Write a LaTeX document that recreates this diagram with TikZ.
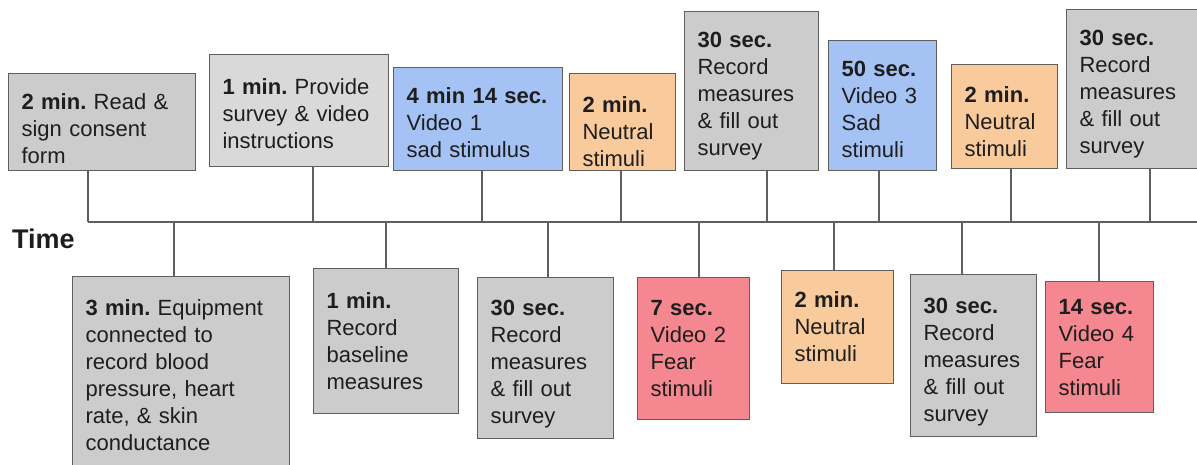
\documentclass[tikz,border=0pt]{standalone}
\usepackage{fontspec}
\setmainfont{Liberation Sans}
\frenchspacing
\definecolor{boxgray}{HTML}{CCCCCC}
\definecolor{boxlight}{HTML}{D9D9D9}
\definecolor{boxblue}{HTML}{A4C2F4}
\definecolor{boxorange}{HTML}{F9CB9C}
\definecolor{boxred}{HTML}{F4878F}
\definecolor{edgegray}{HTML}{5F5F5F}
\definecolor{textcol}{HTML}{1E1E1E}
\tikzset{
  stagebox/.style={draw=edgegray, line width=1.2pt, anchor=north west,
    inner xsep=13pt, inner ysep=0pt, align=left, text=textcol,
    font=\fontsize{22}{27}\selectfont\frenchspacing},
  tick/.style={draw=edgegray, line width=1.3pt},
  timelabel/.style={font=\fontsize{27}{30}\selectfont\bfseries, text=textcol, anchor=base west, inner sep=0pt}
}
% #1 name, #2 left, #3 top, #4 width, #5 height, #6 fill, #7 text, #8 first-line strut height
\newcommand{\stage}[8]{%
  \node[stagebox, fill=#6, minimum width=#4pt, minimum height=#5pt, text width=#4pt-26pt] (#1) at (#2,#3) {\rule{0pt}{#8pt}#7};}
\begin{document}
\begin{tikzpicture}[x=1pt,y=-1pt]
\useasboundingbox (0,0) rectangle (1197,464);
\clip (0,0) rectangle (1197,464);
% timeline
\coordinate (ts) at (88,222);
\coordinate (te) at (1197,222);
\node[timelabel] (time) at (12,248) {Time};
% top boxes
\stage{a}{8}{73}{187}{97}{boxgray}{\textbf{2 min.} Read \&\\sign consent\\form}{30}
\stage{b}{209}{54}{179}{112}{boxlight}{\textbf{1 min.} Provide\\survey \& video\\instructions}{22}
\stage{c}{393}{67}{169}{103}{boxblue}{\textbf{4 min 14 sec.}\\Video 1\\sad stimulus}{24}
\stage{d}{569}{73}{106}{97}{boxorange}{\textbf{2 min.}\\Neutral\\stimuli}{36}
\stage{e}{684}{11}{134}{159}{boxgray}{\textbf{30 sec.}\\Record\\measures\\\& fill out\\survey}{26}
\stage{f}{828}{40}{108}{130}{boxblue}{\textbf{50 sec.}\\Video 3\\Sad\\stimuli}{24}
\stage{g}{951}{64}{106}{104}{boxorange}{\textbf{2 min.}\\Neutral\\stimuli}{26}
\stage{h}{1066}{9}{144}{159}{boxgray}{\textbf{30 sec.}\\Record\\measures\\\& fill out\\survey}{26}
% bottom boxes
\stage{i}{72}{276}{217}{198}{boxgray}{\textbf{3 min.} Equipment\\connected to\\record blood\\pressure, heart\\rate, \& skin\\conductance}{16}
\stage{j}{313}{268}{145}{145}{boxgray}{\textbf{1 min.}\\Record\\baseline\\measures}{16}
\stage{k}{477}{277}{136}{161}{boxgray}{\textbf{30 sec.}\\Record\\measures\\\& fill out\\survey}{28}
\stage{l}{637}{277}{112}{142}{boxred}{\textbf{7 sec.}\\Video 2\\Fear\\stimuli}{16}
\stage{m}{781}{270}{112}{113}{boxorange}{\textbf{2 min.}\\Neutral\\stimuli}{16}
\stage{n}{910}{274}{126}{162}{boxgray}{\textbf{30 sec.}\\Record\\measures\\\& fill out\\survey}{28}
\stage{o}{1045}{281}{108}{131}{boxred}{\textbf{14 sec.}\\Video 4\\Fear\\stimuli}{16}
% timeline points
\coordinate (pa) at (88,222);
\coordinate (pb) at (313,222);
\coordinate (pc) at (482,222);
\coordinate (pd) at (621,222);
\coordinate (pe) at (767,222);
\coordinate (pf) at (879,222);
\coordinate (pg) at (1011,222);
\coordinate (ph) at (1150,222);
\coordinate (pi) at (174,222);
\coordinate (pj) at (386,222);
\coordinate (pk) at (548,222);
\coordinate (pl) at (699,222);
\coordinate (pm) at (834,222);
\coordinate (pn) at (962,222);
\coordinate (po) at (1099,222);
\draw[tick] (ts) -- (te);
\foreach \n in {a,b,c,d,e,f,g,h}{\draw[tick] (\n.south -| p\n) -- (p\n);}
\foreach \n in {i,j,k,l,m,n,o}{\draw[tick] (p\n) -- (\n.north -| p\n);}
\end{tikzpicture}
\end{document}
